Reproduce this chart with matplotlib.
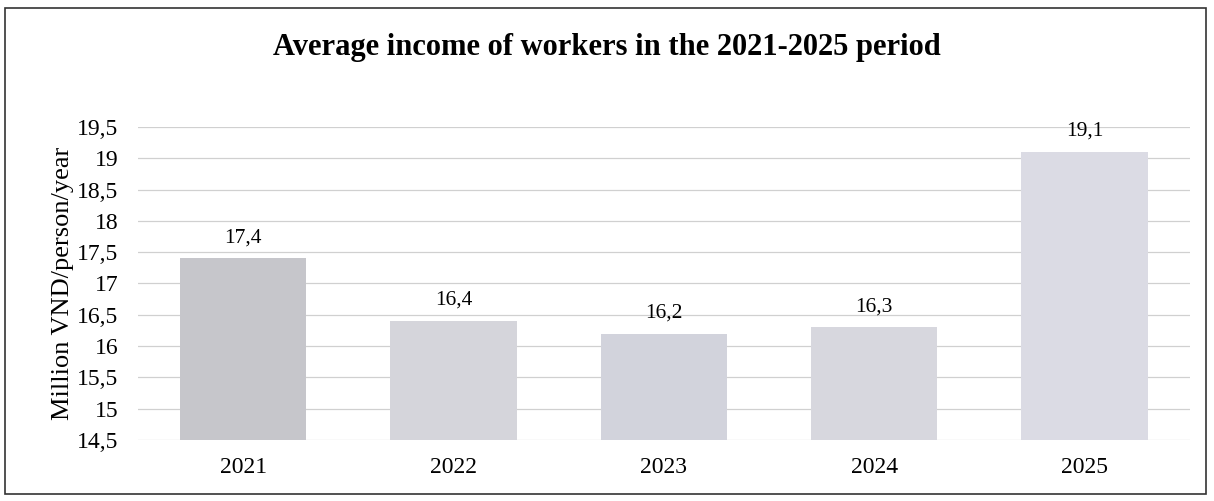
import matplotlib.pyplot as plt
from matplotlib.patches import Rectangle
import numpy as np

years = ['2021', '2022', '2023', '2024', '2025']
income = [17.4, 16.4, 16.2, 16.3, 19.1]
labels = ['17,4', '16,4', '16,2', '16,3', '19,1']
yticks = [14.5, 15, 15.5, 16, 16.5, 17, 17.5, 18, 18.5, 19, 19.5]
ytick_labels = ['14,5', '15', '15,5', '16', '16,5', '17', '17,5', '18', '18,5', '19', '19,5']
bar_colors = ['#c6c6cb', '#d5d5db', '#d2d3dc', '#d7d7de', '#dbdbe4']

plt.rcParams['font.family'] = ['Liberation Serif', 'DejaVu Serif']

fig = plt.figure(figsize=(12.14, 5.01), dpi=100)
ax = fig.add_axes([0.1137, 0.1218, 0.8663, 0.6247])

x = np.arange(len(years))
ax.bar(x, np.array(income) - 14.5, bottom=14.5, width=0.6, color=bar_colors, zorder=2)
for xi, v, lab in zip(x, income, labels):
    ax.annotate(lab, (xi, v), xytext=(0, 8), textcoords='offset points',
                ha='center', va='bottom', fontsize=15.5)

ax.set_xlim(-0.5, len(years) - 0.5)
ax.set_ylim(14.5, 19.5)
ax.set_yticks(yticks)
ax.set_yticklabels(ytick_labels)
ax.set_xticks(x)
ax.set_xticklabels(years)
ax.tick_params(axis='both', length=0, labelsize=17)
ax.tick_params(axis='x', pad=12)
ax.tick_params(axis='y', pad=14)
ax.yaxis.grid(True, color='#d0d0d0', linewidth=0.9, zorder=0)
for s in ax.spines.values():
    s.set_visible(False)

ax.set_ylabel('Million VND/person/year', fontsize=19, labelpad=2)

fig.text(0.5, 0.905, 'Average income of workers in the 2021-2025 period',
         ha='center', va='center', fontsize=22, fontweight='bold')

fig.patches.append(Rectangle((0.004, 0.014), 0.989, 0.97, transform=fig.transFigure,
                             fill=False, edgecolor='#333333', linewidth=1.2))

plt.savefig('out.png', dpi=100)
